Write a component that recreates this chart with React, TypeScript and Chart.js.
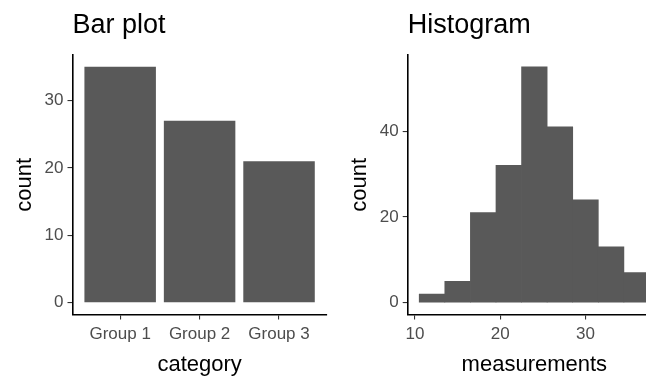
import React, { useEffect, useRef } from 'react';
import { Chart, registerables } from 'chart.js';

Chart.register(...registerables);

// ---- Data ----
const barCategories = ['Group 1', 'Group 2', 'Group 3'];
const barCounts = [35, 27, 21];
const barYTicks = [0, 10, 20, 30];

const histBinCenters = [12, 15, 18, 21, 24, 27, 30, 33, 36];
const histCounts = [2, 5, 21, 32, 55, 41, 24, 13, 7];
const histBinWidth = 3;
const histXTicks = [10, 20, 30];
const histYTicks = [0, 20, 40];

// ---- helpers ----
const FONT = "'Liberation Sans', Arial, sans-serif";
const BAR_COLOR = '#595959';

function expand(lo: number, hi: number, mult = 0.05): [number, number] {
  const r = hi - lo;
  return [lo - r * mult, hi + r * mult];
}

interface PanelOpts {
  title: string;
  xTitle: string;
  yTitle: string;
  xRange: [number, number];
  yRange: [number, number];
  xTicks: number[];
  yTicks: number[];
  xLabel?: (v: number) => string;
  yAxisWidth: number;
  yTitlePad: number;
  rightPad: number;
}

function makeOptions(o: PanelOpts): any {
  const tickFont = { family: FONT, size: 17, lineHeight: 1.2 };
  const titleFont = { family: FONT, size: 22, lineHeight: 1 };
  const grid = {
    display: true,
    offset: false,
    drawOnChartArea: false,
    drawTicks: true,
    tickLength: 5,
    color: '#333333',
    lineWidth: 1.1,
  };
  const border = { display: true, color: '#000000', width: 1.6 };
  return {
    responsive: false,
    animation: false,
    devicePixelRatio: 1,
    layout: { padding: { left: 0, right: o.rightPad, top: 0, bottom: 0 } },
    plugins: {
      legend: { display: false },
      tooltip: { enabled: false },
      title: {
        display: true,
        text: o.title,
        align: 'start',
        fullSize: false,
        color: '#000000',
        font: { family: FONT, size: 27, weight: 'normal', lineHeight: 1 },
        padding: { top: 12, bottom: 16 },
      },
    },
    scales: {
      x: {
        type: 'linear',
        offset: false,
        min: o.xRange[0],
        max: o.xRange[1],
        afterBuildTicks: (s: any) => {
          s.ticks = o.xTicks.map((v) => ({ value: v }));
        },
        afterFit: (s: any) => {
          s.height = 61.5;
          s.paddingLeft = 0;
          s.paddingRight = 0;
        },
        ticks: {
          color: '#4d4d4d',
          font: tickFont,
          padding: 5,
          maxRotation: 0,
          autoSkip: false,
          callback: (v: number) => (o.xLabel ? o.xLabel(v) : String(v)),
        },
        grid,
        border,
        title: {
          display: true,
          text: o.xTitle,
          color: '#000000',
          font: titleFont,
          padding: { top: 0, bottom: 0.5 },
        },
      },
      y: {
        type: 'linear',
        offset: false,
        min: o.yRange[0],
        max: o.yRange[1],
        afterBuildTicks: (s: any) => {
          s.ticks = o.yTicks.map((v) => ({ value: v }));
        },
        afterFit: (s: any) => {
          s.width = o.yAxisWidth;
          s.paddingTop = 0;
          s.paddingBottom = 0;
        },
        ticks: {
          color: '#4d4d4d',
          font: tickFont,
          padding: 4,
          autoSkip: false,
          callback: (v: number) => String(v),
        },
        grid,
        border,
        title: {
          display: true,
          text: o.yTitle,
          color: '#000000',
          font: titleFont,
          padding: { top: o.yTitlePad, bottom: 0 },
        },
      },
    },
  };
}

function Panel({ left, width, config }: { left: number; width: number; config: any }) {
  const ref = useRef<HTMLCanvasElement | null>(null);
  useEffect(() => {
    if (!ref.current) return;
    const chart = new Chart(ref.current, config);
    return () => chart.destroy();
  }, []);
  return (
    <canvas
      ref={ref}
      width={width}
      height={376}
      style={{ position: 'absolute', left, top: 0, width, height: 376 }}
    />
  );
}

export default function App() {
  Chart.defaults.font.family = FONT;

  // Bar plot (discrete axis expanded by 0.6 each side, like ggplot)
  const barX = barCategories.map((_, i) => i + 1);
  const barYMax = Math.max(...barCounts);
  const barConfig = {
    type: 'bar',
    data: {
      datasets: [
        {
          data: barX.map((x, i) => ({ x, y: barCounts[i] })),
          backgroundColor: BAR_COLOR,
          borderWidth: 0,
          barPercentage: 0.9,
          categoryPercentage: 1,
        },
      ],
    },
    options: makeOptions({
      title: 'Bar plot',
      xTitle: 'category',
      yTitle: 'count',
      xRange: [1 - 0.6, barCategories.length + 0.6],
      yRange: expand(0, barYMax),
      xTicks: barX,
      yTicks: barYTicks,
      xLabel: (v) => barCategories[Math.round(v) - 1] ?? '',
      yAxisWidth: 72.5,
      yTitlePad: 14.4,
      rightPad: 3.3,
    }),
  };

  // Histogram
  const edgeLo = histBinCenters[0] - histBinWidth / 2;
  const edgeHi = histBinCenters[histBinCenters.length - 1] + histBinWidth / 2;
  const histYMax = Math.max(...histCounts);
  const histConfig = {
    type: 'bar',
    data: {
      datasets: [
        {
          data: histBinCenters.map((x, i) => ({ x, y: histCounts[i] })),
          backgroundColor: BAR_COLOR,
          borderWidth: 0,
          barPercentage: 1,
          categoryPercentage: 1,
        },
      ],
    },
    options: makeOptions({
      title: 'Histogram',
      xTitle: 'measurements',
      yTitle: 'count',
      xRange: expand(edgeLo, edgeHi),
      yRange: expand(0, histYMax),
      xTicks: histXTicks,
      yTicks: histYTicks,
      yAxisWidth: 77.7,
      yTitlePad: 18.7,
      rightPad: 0,
    }),
  };

  return (
    <div
      style={{
        position: 'absolute',
        left: 0,
        top: 0,
        width: 646,
        height: 376,
        overflow: 'hidden',
        background: '#ffffff',
      }}
    >
      <Panel left={0} width={330} config={barConfig} />
      <Panel left={330} width={331} config={histConfig} />
    </div>
  );
}
